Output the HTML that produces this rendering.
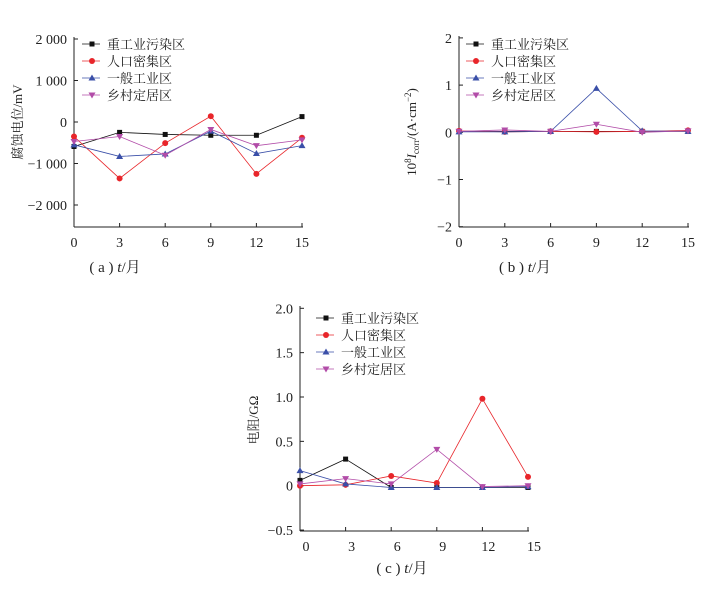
<!DOCTYPE html>
<html><head><meta charset="utf-8"><style>
body{margin:0;background:#fff;width:712px;height:584px;overflow:hidden}
svg{font-family:"Liberation Serif","Noto Serif CJK SC",serif}
</style></head><body>
<svg id="c" width="712" height="584"></svg>
<script>
const months=[0,3,6,9,12,15];
const seriesNames=["重工业污染区","人口密集区","一般工业区","乡村定居区"];
const colors=["#111","#e8252a","#3a4fa8","#b24ca8"];
const potHeavy=[-590,-250,-300,-320,-320,130];
const potDense=[-350,-1360,-510,140,-1250,-380];
const potGeneral=[-550,-830,-770,-220,-760,-570];
const potRural=[-470,-350,-800,-180,-570,-430];
const icHeavy=[0.02,0.02,0.02,0.02,0.02,0.02];
const icDense=[0.03,0.01,0.02,0.01,0.02,0.04];
const icGeneral=[0.01,0.01,0.02,0.93,0.03,0.02];
const icRural=[0.02,0.05,0.02,0.17,0.0,0.03];
const resHeavy=[0.06,0.30,-0.02,-0.02,-0.02,-0.02];
const resDense=[0.0,0.01,0.11,0.03,0.98,0.10];
const resGeneral=[0.17,0.02,-0.02,-0.02,-0.02,-0.01];
const resRural=[0.02,0.08,0.02,0.41,-0.01,0.0];
const potTicks=[2000,1000,0,-1000,-2000];
const potTickLabels=["2 000","1 000","0","−1 000","−2 000"];
const icTicks=[2,1,0,-1,-2];
const icTickLabels=["2","1","0","−1","−2"];
const resTicks=[2.0,1.5,1.0,0.5,0,-0.5];
const resTickLabels=["2.0","1.5","1.0","0.5","0","−0.5"];

const svg=document.getElementById('c');
const NS="http://www.w3.org/2000/svg";
function mk(tag,attrs,parent,name){const e=document.createElementNS(NS,tag);for(const k in attrs)e.setAttribute(k,attrs[k]);


(parent||svg).appendChild(e);return e;}
function marker(g,i,x,y,name){
 const c=colors[i];
 if(i===0)mk('rect',{x:x-2.5,y:y-2.5,width:5,height:5,fill:c},g,name);
 else if(i===1)mk('circle',{cx:x,cy:y,r:3,fill:c},g,name);
 else if(i===2)mk('polygon',{points:`${x},${y-3.5} ${x-3.5},${y+2.5} ${x+3.5},${y+2.5}`,fill:c},g,name);
 else mk('polygon',{points:`${x},${y+3.5} ${x-3.5},${y-2.5} ${x+3.5},${y-2.5}`,fill:c},g,name);
}
function chart(o){
 const g=mk('g',{},svg,o.name);
 const X=v=>o.x0+(v-0)/15*(o.x1-o.x0);
 const Y=v=>o.yZero-(v)*o.yScale;
 mk('line',{x1:o.x0,y1:o.yTop-2,x2:o.x0,y2:o.yBot,stroke:'#222','stroke-width':1},g,'y-axis');
 mk('line',{x1:o.x0,y1:o.yBot,x2:o.x1+1,y2:o.yBot,stroke:'#222','stroke-width':1},g,'x-axis');
 o.ticks.forEach((t,k)=>{
  mk('line',{x1:o.x0,y1:Y(t),x2:o.x0+4,y2:Y(t),stroke:'#222'},g,'y-tick');
  const tx=mk('text',{x:o.x0-7,y:Y(t)+5,'text-anchor':'end','font-size':14,fill:'#222'},g,'y-tick-label');tx.textContent=o.tickLabels[k];
 });
 months.forEach(m=>{
  mk('line',{x1:X(m),y1:o.yBot,x2:X(m),y2:o.yBot-4,stroke:'#222'},g,'x-tick');
  const tx=mk('text',{x:X(m)+o.xlOff,y:o.yBot+20,'text-anchor':'middle','font-size':14,fill:'#222'},g,'x-tick-label');tx.textContent=m;
 });
 o.series.forEach((s,i)=>{
  mk('polyline',{points:s.map((v,j)=>X(months[j])+','+Y(v)).join(' '),fill:'none',stroke:colors[i],'stroke-width':0.8},g,'series-line-'+(i+1));
  s.forEach((v,j)=>marker(g,i,X(months[j]),Y(v),'series-point'));
 });
 seriesNames.forEach((n,i)=>{
  const y=o.legY+i*17;
  mk('line',{x1:o.legX,y1:y,x2:o.legX+18,y2:y,stroke:colors[i],'stroke-width':0.8},g,'legend-line');
  marker(g,i,o.legX+10,y,'legend-marker');
  const t=mk('text',{x:o.legX+25,y:y+5,'font-size':13,fill:'#222'},g,'legend-entry');t.textContent=n;
 });
 const yl=mk('text',{x:o.ylX,y:o.ylY,'text-anchor':'middle','font-size':13,fill:'#222',transform:`rotate(-90 ${o.ylX} ${o.ylY})`},g,'y-axis-title');yl.innerHTML=o.ylabel;
 const xl=mk('text',{x:o.capX,y:o.capY,'text-anchor':'middle','font-size':15,fill:'#222'},g,'x-axis-title');xl.innerHTML=o.cap;
}
chart({name:'chart-a',x0:74,x1:302,yTop:39,yBot:227,yZero:122,yScale:83/2000,ticks:potTicks,tickLabels:potTickLabels,xlOff:0,
 series:[potHeavy,potDense,potGeneral,potRural],legX:82,legY:44,ylX:22,ylY:122,ylabel:'腐蚀电位/mV',capX:115,capY:272,cap:'( a ) <tspan font-style="italic">t</tspan>/月'});
chart({name:'chart-b',x0:459,x1:688,yTop:38,yBot:227,yZero:132.3,yScale:47.2,ticks:icTicks,tickLabels:icTickLabels,xlOff:0,
 series:[icHeavy,icDense,icGeneral,icRural],legX:466,legY:44,ylX:416,ylY:132,ylabel:'10<tspan font-size="9" dy="-5">8</tspan><tspan dy="5" font-style="italic">I</tspan><tspan font-size="9" dy="3">corr</tspan><tspan dy="-3">/(A·cm</tspan><tspan font-size="9" dy="-5">−2</tspan><tspan dy="5">)</tspan>',capX:525,capY:272,cap:'( b ) <tspan font-style="italic">t</tspan>/月'});
chart({name:'chart-c',x0:300,x1:528,yTop:308,yBot:531,yZero:485.7,yScale:88.7,ticks:resTicks,tickLabels:resTickLabels,xlOff:6,
 series:[resHeavy,resDense,resGeneral,resRural],legX:316,legY:318,ylX:258,ylY:420,ylabel:'电阻/GΩ',capX:402,capY:573,cap:'( c ) <tspan font-style="italic">t</tspan>/月'});
</script>
</body></html>
